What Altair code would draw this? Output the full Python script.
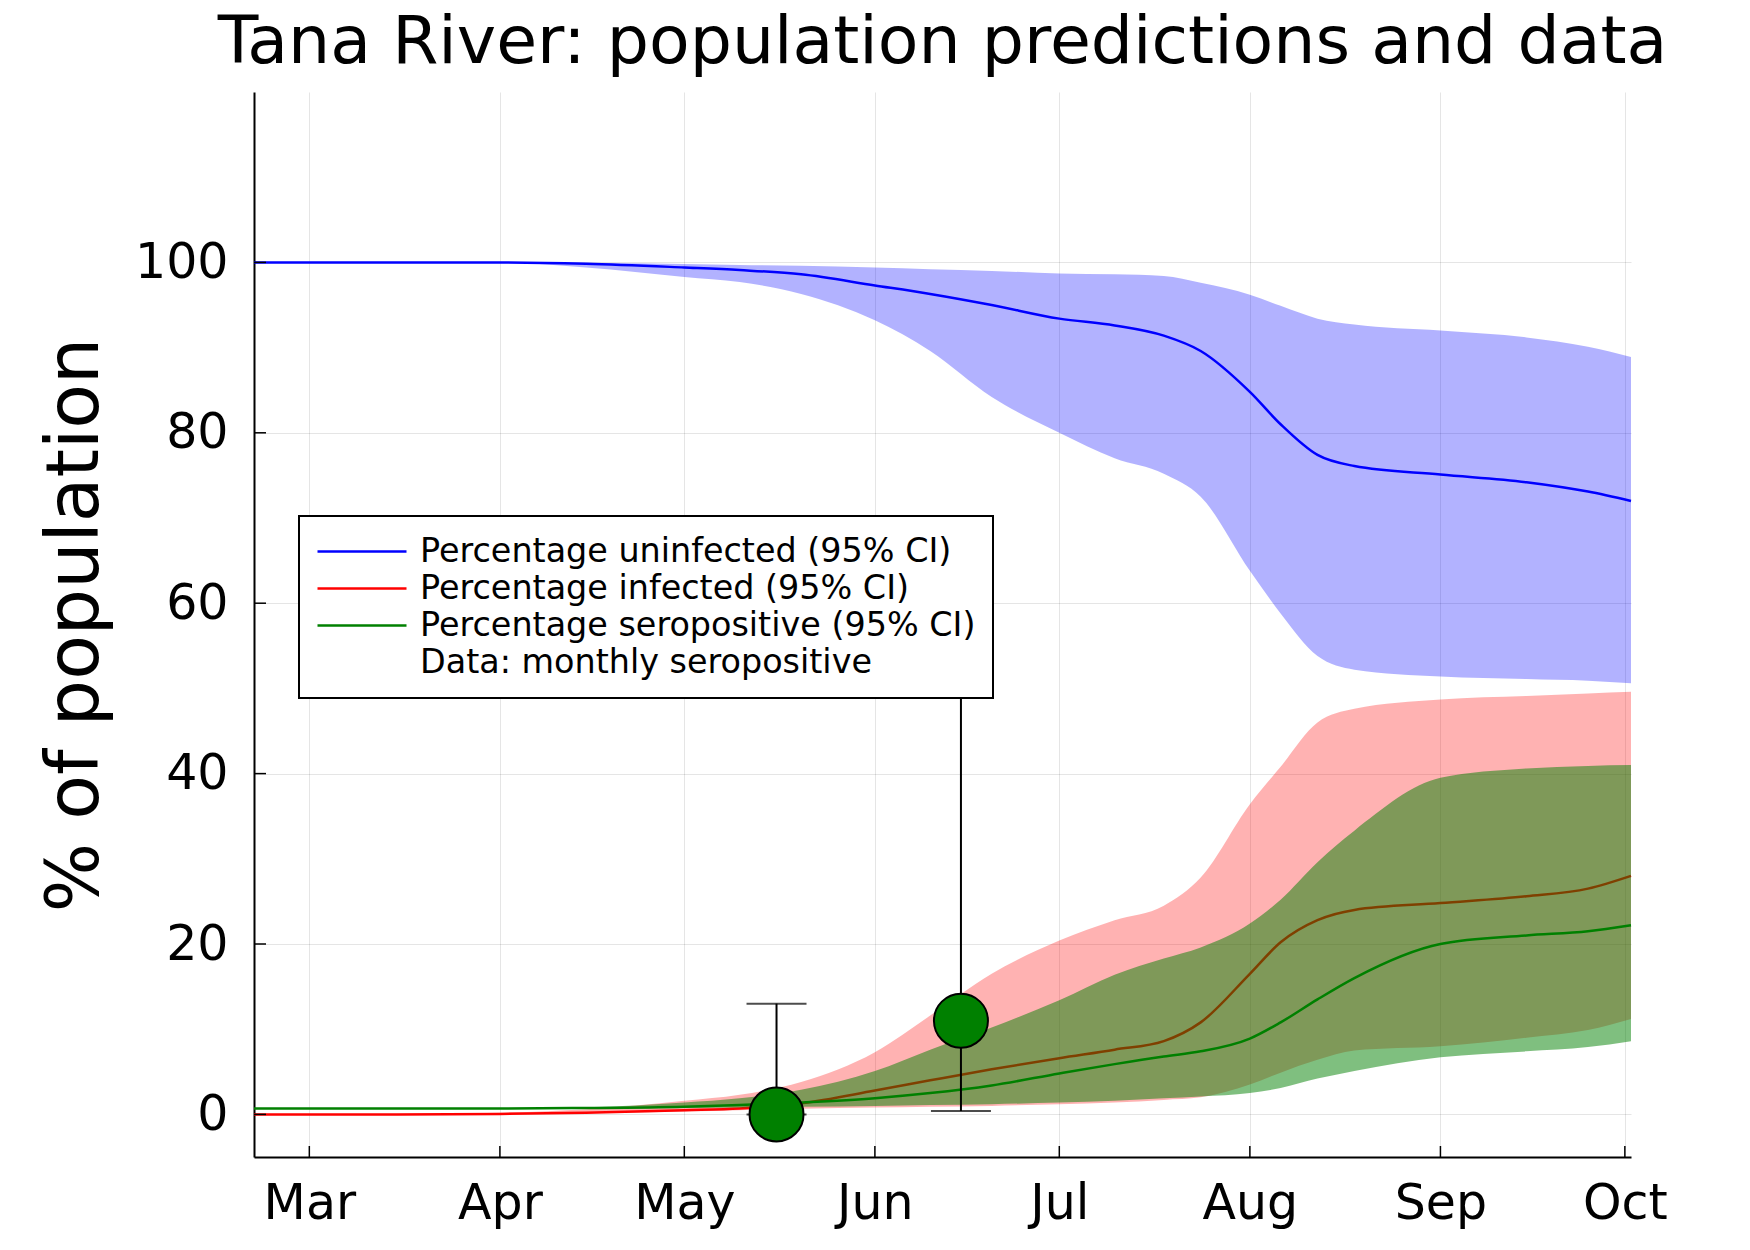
import altair as alt
import pandas as pd

# ---------------- data ----------------
dates = ["2020-02-21", "2020-03-15", "2020-04-01", "2020-04-15", "2020-05-01",
         "2020-05-10", "2020-05-20", "2020-06-01", "2020-06-10", "2020-06-20",
         "2020-07-01", "2020-07-10", "2020-07-18", "2020-07-24", "2020-08-01",
         "2020-08-06", "2020-08-12", "2020-08-18", "2020-09-01", "2020-09-15",
         "2020-09-25", "2020-10-02"]

unin_med = [100, 100, 100, 99.85, 99.4, 99.1, 98.6, 97.3, 96.3, 95.0, 93.4,
            92.6, 91.4, 89.6, 84.8, 81.0, 77.4, 76.1, 75.1, 74.2, 73.1, 72.0]
unin_lo = [100, 100, 100, 99.4, 98.3, 97.7, 96.3, 93.2, 89.6, 84.2, 80.0,
           77.0, 75.2, 72.5, 63.8, 58.8, 53.8, 52.2, 51.4, 51.1, 50.9, 50.6]
unin_hi = [100, 100, 100, 99.95, 99.8, 99.7, 99.6, 99.4, 99.2, 99.0, 98.7,
           98.6, 98.4, 97.6, 96.2, 94.9, 93.4, 92.7, 92.0, 91.2, 90.1, 88.9]

inf_med = [0, 0, 0.05, 0.2, 0.5, 0.7, 1.3, 2.8, 4.0, 5.3, 6.6,
           7.6, 8.6, 10.8, 16.5, 20.2, 22.8, 24.0, 24.8, 25.6, 26.5, 28.0]
inf_lo = [0, 0, 0.05, 0.15, 0.35, 0.5, 0.65, 0.8, 0.9, 1.0, 1.2,
          1.4, 1.7, 2.0, 3.5, 4.9, 6.4, 7.5, 8.0, 9.0, 9.9, 11.2]
inf_hi = [0, 0.05, 0.2, 0.6, 1.6, 2.3, 3.8, 7.3, 11.6, 16.5, 20.4,
          22.8, 24.5, 27.8, 36.4, 40.8, 46.0, 47.6, 48.7, 49.1, 49.4, 49.6]

sero_med = [0.7, 0.7, 0.7, 0.75, 0.9, 1.1, 1.4, 1.9, 2.5, 3.4, 4.8,
            5.9, 6.8, 7.4, 8.9, 10.8, 13.5, 16.0, 20.0, 21.0, 21.5, 22.2]
sero_lo = [0.7, 0.7, 0.7, 0.7, 0.75, 0.8, 0.9, 1.0, 1.1, 1.2, 1.4,
           1.6, 1.9, 2.1, 2.5, 3.1, 4.2, 5.1, 6.7, 7.4, 7.9, 8.6]
sero_hi = [0.7, 0.7, 0.75, 0.85, 1.4, 1.9, 2.9, 5.1, 7.6, 10.2, 13.4,
           16.4, 18.3, 19.6, 22.4, 25.2, 29.6, 33.3, 39.5, 40.6, 40.9, 41.0]

data_dates = ["2020-05-16", "2020-06-15"]
data_val = [0, 11]
data_lo = [0, 0.4]
data_hi = [13, 60]

month_ticks = ["2020-03-01", "2020-04-01", "2020-05-01", "2020-06-01",
               "2020-07-01", "2020-08-01", "2020-09-01", "2020-10-01"]
y_ticks = [0, 20, 40, 60, 80, 100]

series_names = ["Percentage uninfected (95% CI)", "Percentage infected (95% CI)",
                "Percentage seropositive (95% CI)", "Data: monthly seropositive"]
series_colors = ["#0000ff", "#ff0000", "#008000", "rgba(0,0,0,0)"]
band_opacity = [0.3, 0.3, 0.5]

# ---------------- tables ----------------
def to_dt(lst):
    return pd.to_datetime(lst)

frames = []
for name, med, lo, hi in [(series_names[0], unin_med, unin_lo, unin_hi),
                          (series_names[1], inf_med, inf_lo, inf_hi),
                          (series_names[2], sero_med, sero_lo, sero_hi)]:
    frames.append(pd.DataFrame({"date": to_dt(dates), "series": name,
                                "med": med, "lo": lo, "hi": hi}))

pts = pd.DataFrame({"date": to_dt(data_dates), "val": data_val,
                    "lo": data_lo, "hi": data_hi})
xt = pd.DataFrame({"date": to_dt(month_ticks)})
yt = pd.DataFrame({"val": y_ticks})

W, H = 1377, 1065
FONT = "DejaVu Sans"

def dt(s):
    y, m, d = [int(v) for v in s.split("-")]
    return alt.DateTime(year=y, month=m, date=d)

xscale = alt.Scale(domain=[dt("2020-02-21"), dt("2020-10-02")], nice=False)
yscale = alt.Scale(domain=[-5, 120], nice=False, zero=False)

xaxis = alt.Axis(values=[dt(s) for s in month_ticks], format="%b", title=None,
                 labelFontSize=49, labelFont=FONT, labelColor="black",
                 ticks=False, labelPadding=61, labelBaseline="alphabetic",
                 labelFlush=False, labelOverlap=False,
                 domainColor="black", domainWidth=2,
                 grid=True, gridColor="black", gridOpacity=0.1, gridWidth=1)
yaxis = alt.Axis(values=y_ticks, title="% of population",
                 labelFontSize=49, labelFont=FONT, labelColor="black",
                 ticks=False, labelPadding=26,
                 domainColor="black", domainWidth=2,
                 grid=True, gridColor="black", gridOpacity=0.1, gridWidth=1,
                 titleFontSize=73, titleFont=FONT, titleFontWeight="normal",
                 titleColor="black", titleX=-157, titleY=H / 2, titleAngle=270,
                 titleBaseline="alphabetic", titleAlign="center")

def X(field="date"):
    return alt.X(f"{field}:T", scale=xscale, axis=xaxis)

def Y(field):
    return alt.Y(f"{field}:Q", scale=yscale, axis=yaxis)

legend = alt.Legend(title=None, orient="none", legendX=45, legendY=424,
                    symbolType="stroke", symbolSize=7921, symbolStrokeWidth=2.5,
                    labelFontSize=33.4, labelFont=FONT, labelColor="black",
                    labelLimit=2000, labelOffset=12, clipHeight=37,
                    rowPadding=0, padding=17, strokeColor="black",
                    fillColor="white", cornerRadius=0)
color_scale = alt.Scale(domain=series_names, range=series_colors)

layers = []
for i, df in enumerate(frames):
    col = series_colors[i]
    band = alt.Chart(df).mark_area(color=col, opacity=band_opacity[i],
                                   interpolate="monotone").encode(
        x=X(), y=Y("lo"), y2="hi:Q")
    line = alt.Chart(df).mark_line(strokeWidth=2.5, interpolate="monotone").encode(
        x=X(), y=Y("med"),
        color=alt.Color("series:N", scale=color_scale, legend=legend))
    layers += [band, line]

err = alt.Chart(pts).mark_rule(color="black", strokeWidth=2).encode(
    x=X(), y=Y("lo"), y2="hi:Q")
cap_lo = alt.Chart(pts).mark_tick(orient="horizontal", size=60, thickness=2,
                                  color="black").encode(x=X(), y=Y("lo"))
cap_hi = alt.Chart(pts).mark_tick(orient="horizontal", size=60, thickness=2,
                                  color="black").encode(x=X(), y=Y("hi"))
dots = alt.Chart(pts).mark_point(shape="circle", filled=True, size=2916,
                                 fill="#008000", stroke="black", strokeWidth=2,
                                 opacity=1).encode(x=X(), y=Y("val"))

xtick = alt.Chart(xt).mark_rule(color="black", strokeWidth=1.5).encode(
    x=X(), y=alt.value(H), y2=alt.value(H - 11))
ytick = alt.Chart(yt).mark_rule(color="black", strokeWidth=1.5).encode(
    y=Y("val"), x=alt.value(0), x2=alt.value(12))

chart = alt.layer(*layers, err, cap_lo, cap_hi, dots, xtick, ytick).properties(
    width=W, height=H,
    title=alt.TitleParams("Tana River: population predictions and data",
                          fontSize=66.5, font=FONT, fontWeight="normal",
                          color="black", anchor="middle", frame="group",
                          baseline="alphabetic", offset=25, dy=62),
    autosize=alt.AutoSizeParams(type="none"),
    padding={"left": 254, "top": 92, "right": 119, "bottom": 93},
).configure_view(stroke=None).configure_legend(strokeWidth=2)

chart.save("out.html", embed_options={"renderer": "svg", "actions": False})
